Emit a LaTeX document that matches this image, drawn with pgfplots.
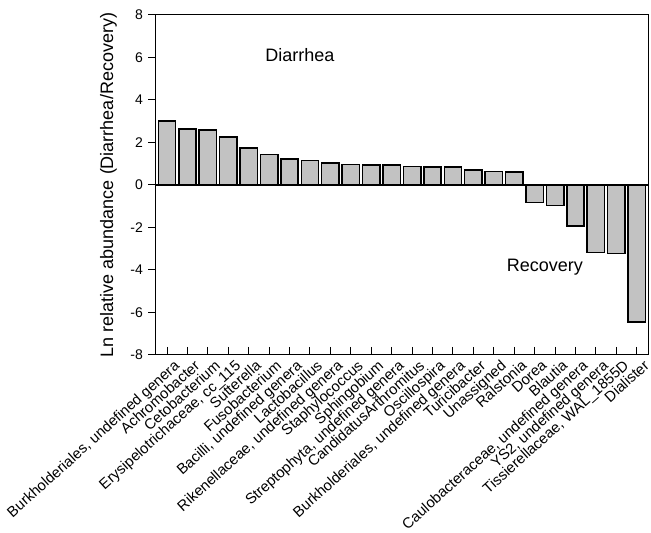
\documentclass[border=0pt]{standalone}
\usepackage{pgfplots}
\pgfplotsset{compat=1.18}
\usepackage{fontspec}
\setmainfont{Liberation Sans}
\begin{document}
\begin{tikzpicture}
\begin{axis}[
  name=ax,
  scale only axis,
  width=492pt, height=340pt,
  xmin=-0.54, xmax=23.55,
  ymin=-8, ymax=8,
  ytick={-8,-6,...,8},
  xtick=data,
  xticklabels={{Burkholderiales, undefined genera},Achromobacter,Cetobacterium,{Erysipelotrichaceae, cc\_115},Sutterella,Fusobacterium,{Bacilli, undefined genera},Lactobacillus,{Rikenellaceae, undefined genera},Staphylococcus,Sphingobium,{Streptophyta, undefined genera},CandidatusArthromitus,Oscillospira,{Burkholderiales, undefined genera},Turicibacter,Unassigned,Ralstonia,Dorea,Blautia,{Caulobacteraceae, undefined genera},{YS2, undefined genera},{Tissierellaceae, WAL\_1855D},Dialister},
  x tick label style={xshift=6pt, yshift=-12pt, rotate=42, anchor=north east, inner sep=0pt, font=\fontsize{14.8}{16}\selectfont},
  y tick label style={font=\fontsize{14}{16}\selectfont, anchor=east, inner sep=0pt, xshift=-13pt},
  /pgf/number format/assume math mode=true,
  tick pos=left,
  tick align=inside,
  major tick length=-8pt,
  tick style={black, line width=1pt},
  axis line style={line width=1pt},
  ylabel={Ln relative abundance (Diarrhea/Recovery)},
  ylabel style={font=\fontsize{18}{20}\selectfont, inner sep=0pt, at={(axis description cs:-0.0793,0.5)}, anchor=south},
  ybar, bar width=0.85, bar shift=0pt,
]
\addplot[fill={rgb,255:red,194;green,194;blue,194}, draw=black, line width=1.5pt] coordinates {
(0,3.01) (1,2.64) (2,2.59) (3,2.26) (4,1.74) (5,1.43) (6,1.22) (7,1.16)
(8,1.04) (9,0.96) (10,0.94) (11,0.93) (12,0.88) (13,0.85) (14,0.85) (15,0.71)
(16,0.64) (17,0.61) (18,-0.83) (19,-0.97) (20,-1.93) (21,-3.17) (22,-3.22) (23,-6.45)
};
\draw[line width=1.5pt] (axis cs:-0.54,0) -- (axis cs:23.55,0);
\node[font=\fontsize{18}{20}\selectfont] at (axis cs:6.5,6.1) {Diarrhea};
\node[font=\fontsize{18}{20}\selectfont] at (axis cs:18.5,-3.86) {Recovery};
\end{axis}
\pgfresetboundingbox
\path ([xshift=-156pt,yshift=-178pt]ax.south west) rectangle ([xshift=3pt,yshift=15pt]ax.north east);
\end{tikzpicture}
\end{document}
